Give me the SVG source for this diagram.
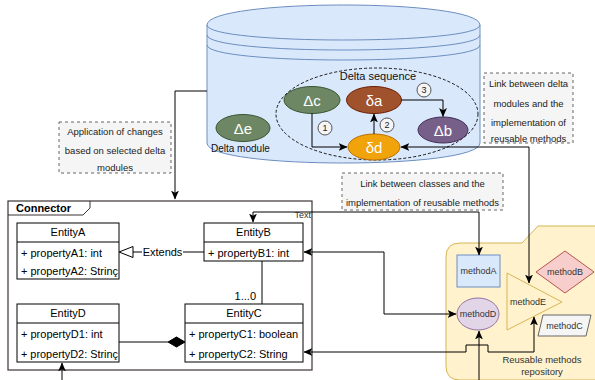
<svg xmlns="http://www.w3.org/2000/svg" width="595" height="380" viewBox="0 0 595 380">
<style>
text{font-family:"Liberation Sans",Arial,sans-serif;}
.ent{fill:#fff;stroke:#000;stroke-width:1;}
.et{font-size:11px;fill:#000;}
.note{fill:#f5f5f5;stroke:#666;stroke-dasharray:3 3;stroke-width:1;}
.nt{font-size:9.5px;fill:#222;text-anchor:middle;}
.w{fill:#fff;font-size:15px;text-anchor:middle;}
.mt{font-size:9px;fill:#333;text-anchor:middle;}
.conn{fill:none;stroke:#000;stroke-width:1;}
.num{fill:#f5f5f5;stroke:#555;stroke-width:1;}
.numt{font-size:9px;fill:#222;text-anchor:middle;}
</style>
<defs>
<marker id="arr" markerUnits="userSpaceOnUse" markerWidth="9" markerHeight="9" viewBox="0 0 8 8" refX="7.5" refY="4" orient="auto-start-reverse">
<path d="M0,0.5 L8,4 L0,7.5 L2,4 Z" fill="#000"/>
</marker>
</defs>

<g id="repository">
<path d="M446,257 Q446,243 460,243 L522,243 L538,226 L595,226 L600,226 L600,380 L460,380 Q446,380 446,366 Z" fill="#fff2cc" stroke="#d6b656" stroke-width="1"/>
<text x="542" y="363" font-size="9.5" fill="#333" text-anchor="middle">Reusable methods</text>
<text x="542" y="375" font-size="9.5" fill="#333" text-anchor="middle">repository</text>
</g>

<g id="delta-module">
<path d="M207,25 C207,-1.67 480,-1.67 480,25 L480,143 C480,169.67 207,169.67 207,143 Z" fill="#dae8fc" stroke="#6c8ebf" stroke-width="1"/>
<path d="M207,25 C207,45 480,45 480,25 M207,35 C207,55 480,55 480,35 M207,45 C207,65 480,65 480,45" fill="none" stroke="#6c8ebf" stroke-width="1"/>
<text x="211" y="152" font-size="10" fill="#111">Delta module</text>
</g>

<g id="delta-sequence">
<ellipse cx="377" cy="114" rx="101" ry="46" fill="none" stroke="#000" stroke-width="0.9" stroke-dasharray="3 2"/>
<text x="378" y="80" font-size="11" fill="#111" text-anchor="middle">Delta sequence</text>
</g>

<g id="delta-e"><ellipse cx="243" cy="128" rx="27" ry="13.5" fill="#6d8764" stroke="#3a5431"/><text class="w" x="243" y="134">Δe</text></g>
<g id="delta-c"><ellipse cx="312" cy="100" rx="28" ry="13.5" fill="#6d8764" stroke="#3a5431"/><text class="w" x="312" y="106">Δc</text></g>
<g id="delta-a"><ellipse cx="374" cy="100" rx="27.5" ry="13.5" fill="#a0522d" stroke="#6d1f00"/><text class="w" x="374" y="106">δa</text></g>
<g id="delta-b"><ellipse cx="443" cy="130" rx="25" ry="13" fill="#76608a" stroke="#432d57"/><text class="w" x="443" y="136">Δb</text></g>
<g id="delta-d"><ellipse cx="374" cy="147" rx="26" ry="13" fill="#f0a30a" stroke="#bd7000"/><text class="w" x="374" y="153">δd</text></g>

<g id="step1"><circle class="num" cx="325" cy="128" r="7"/><text class="numt" x="325" y="131">1</text></g>
<g id="step2"><circle class="num" cx="387" cy="125" r="7"/><text class="numt" x="387" y="128">2</text></g>
<g id="step3"><circle class="num" cx="424" cy="90" r="7"/><text class="numt" x="424" y="93">3</text></g>

<g id="note-application">
<rect class="note" x="59" y="122" width="112" height="51"/>
<text class="nt" x="115" y="135">Application of changes</text>
<text class="nt" x="115" y="154">based on selected delta</text>
<text class="nt" x="115" y="171">modules</text>
</g>

<g id="note-delta-link">
<rect class="note" x="484" y="73" width="89" height="70"/>
<text class="nt" x="528.5" y="87">Link between delta</text>
<text class="nt" x="528.5" y="107">modules and the</text>
<text class="nt" x="528.5" y="126">implementation of</text>
<text class="nt" x="528.5" y="142">reusable methods</text>
</g>

<g id="note-class-link">
<rect class="note" x="342" y="173" width="161" height="37"/>
<text class="nt" x="422.5" y="187">Link between classes and the</text>
<text class="nt" x="422.5" y="206">implementation of reusable methods</text>
</g>

<g id="connector-frame">
<rect x="8" y="201" width="304" height="169" fill="none" stroke="#3d3333" stroke-width="1.2"/>
<path d="M8,215 L83,215 L90,208 L90,201" fill="none" stroke="#3d3333" stroke-width="1"/>
<text x="16" y="212" font-size="11" font-weight="bold" fill="#000">Connector</text>
</g>

<g id="entityA">
<rect class="ent" x="17" y="223" width="102" height="56"/>
<line x1="17" y1="242" x2="119" y2="242" stroke="#000"/>
<text class="et" x="68" y="236" text-anchor="middle">EntityA</text>
<text class="et" x="21" y="257">+ propertyA1: int</text>
<text class="et" x="21" y="275" textLength="97" lengthAdjust="spacingAndGlyphs">+ propertyA2: Strinç</text>
</g>

<g id="entityB">
<rect class="ent" x="204" y="223" width="99" height="38"/>
<line x1="204" y1="242" x2="303" y2="242" stroke="#000"/>
<text class="et" x="253.5" y="236" text-anchor="middle">EntityB</text>
<text class="et" x="208" y="257">+ propertyB1: int</text>
</g>

<g id="entityD">
<rect class="ent" x="17" y="304" width="102" height="58"/>
<line x1="17" y1="323" x2="119" y2="323" stroke="#000"/>
<text class="et" x="68" y="317" text-anchor="middle">EntityD</text>
<text class="et" x="21" y="338">+ propertyD1: int</text>
<text class="et" x="21" y="358" textLength="97" lengthAdjust="spacingAndGlyphs">+ propertyD2: Strinç</text>
</g>

<g id="entityC">
<rect class="ent" x="185" y="304" width="118" height="58"/>
<line x1="185" y1="323" x2="303" y2="323" stroke="#000"/>
<text class="et" x="244" y="317" text-anchor="middle">EntityC</text>
<text class="et" x="189" y="338">+ propertyC1: boolean</text>
<text class="et" x="189" y="358">+ propertyC2: String</text>
</g>

<g id="methodA"><rect x="457" y="255" width="43" height="32" fill="#dae8fc" stroke="#6c8ebf"/><text class="mt" x="478.5" y="274">methodA</text></g>
<g id="methodB"><path d="M565,251 L594,272 L565,293 L536,272 Z" fill="#f8cecc" stroke="#b85450"/><text class="mt" x="565" y="275">methodB</text></g>
<g id="methodD"><ellipse cx="478" cy="314" rx="21" ry="16" fill="#e1d5e7" stroke="#9673a6"/><text class="mt" x="478" y="317">methodD</text></g>
<g id="methodE"><path d="M507,273 L562,302 L507,330 Z" fill="#fff2cc" stroke="#d6b656"/><text class="mt" x="528" y="305">methodE</text></g>
<g id="methodC"><path d="M543,315 L591,315 L586,336 L538,336 Z" fill="#f5f5f5" stroke="#666"/><text class="mt" x="564.5" y="329">methodC</text></g>

<g id="connectors">
<path class="conn" d="M207,91 L175,91 L175,199" marker-end="url(#arr)"/>
<path class="conn" d="M312,113.5 L312,147 L347,147" marker-end="url(#arr)"/>
<path class="conn" d="M374,134 L374,114" marker-end="url(#arr)"/>
<path class="conn" d="M401.5,100 L443,100 L443,116.5" marker-end="url(#arr)"/>
<path class="conn" d="M401,147 L529,147 L529,283" marker-start="url(#arr)" marker-end="url(#arr)"/>
<path class="conn" d="M479,255 L479,212 L253,212 L253,222" marker-start="url(#arr)" marker-end="url(#arr)"/>
<text x="311" y="218" font-size="9" fill="#333" text-anchor="end">Text</text>
<path class="conn" d="M304,252 L384,252 L384,314 L456,314" marker-start="url(#arr)" marker-end="url(#arr)"/>
<path class="conn" d="M304,352 L466,352 L466,345 L488,345 L488,352 L534,352 L534,317" marker-start="url(#arr)" marker-end="url(#arr)"/>
<path class="conn" d="M479,380 L479,331" marker-end="url(#arr)"/>
<path class="conn" d="M62,380 L62,363" marker-end="url(#arr)"/>
<path class="conn" d="M204,252 L133,252"/>
<path d="M133,246.5 L133,257.5 L119,252 Z" fill="#fff" stroke="#000"/>
<rect x="142" y="245" width="41" height="13" fill="#fff"/>
<text x="162.5" y="256" font-size="11" text-anchor="middle" fill="#000">Extends</text>
<path class="conn" d="M262,261 L262,304"/>
<text x="256" y="300" font-size="11" text-anchor="end" fill="#000">1...0</text>
<path class="conn" d="M119,342 L168,342"/>
<path d="M168,342 L176.5,337 L185,342 L176.5,347 Z" fill="#000" stroke="#000"/>
</g>
</svg>
